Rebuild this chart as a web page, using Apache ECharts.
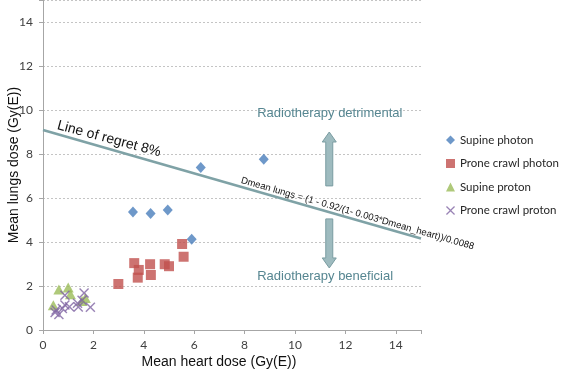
<!DOCTYPE html>
<html><head><meta charset="utf-8">
<script src="https://cdn.jsdelivr.net/npm/echarts@6/dist/echarts.min.js"></script>
<style>html,body{margin:0;padding:0;background:#fff}#c{width:564px;height:373px}</style>
</head><body><div id="c"></div>
<script>
// ---- data ----
const seriesNames = ['Supine photon', 'Prone crawl photon', 'Supine proton', 'Prone crawl proton'];
const supinePhoton = [[3.57,5.36],[4.27,5.29],[4.95,5.45],[5.9,4.12],[6.26,7.39],[8.76,7.76]];
const proneCrawlPhoton = [[2.99,2.09],[3.62,3.04],[3.8,2.73],[3.76,2.38],[4.25,2.99],[4.28,2.5],[4.83,2.99],[5.0,2.9],[5.52,3.91],[5.58,3.33]];
const supineProton = [[0.41,1.12],[0.63,1.84],[1.0,1.93],[1.09,1.63],[1.55,1.32],[1.68,1.45]];
const proneCrawlProton = [[0.48,0.8],[0.63,0.7],[0.52,0.91],[0.77,0.98],[0.87,1.14],[0.87,1.58],[1.05,1.06],[1.37,1.22],[1.4,1.05],[1.63,1.68],[1.88,1.03],[1.55,1.35]];
const regretLine = [[0, 9.09], [15, 4.16]];
const xAxisRange = [0, 15];
const yAxisRange = [0, 15];
const tickStep = 2;

const chart = echarts.init(document.getElementById('c'), null, {renderer: 'canvas'});
const xSymbol = 'path://M0,1 L1,0 L5,4 L9,0 L10,1 L6,5 L10,9 L9,10 L5,6 L1,10 L0,9 L4,5 Z';
const tickFont = 'Lato';
const axisColor = '#a6a6a6';

chart.setOption({
  animation: false,
  backgroundColor: '#fff',
  grid: {left: 43, right: 143, top: 0, bottom: 43, containLabel: false, outerBoundsMode: 'none'},
  xAxis: {
    type: 'value', min: xAxisRange[0], max: xAxisRange[1], interval: tickStep,
    name: 'Mean heart dose (Gy(E))', nameLocation: 'middle', nameGap: 25, nameMoveOverlap: false,
    nameTextStyle: {fontFamily: 'Liberation Sans', fontSize: 14, color: '#111', padding: [0, 26, 0, 0]},
    axisLine: {show: true, lineStyle: {color: axisColor, width: 1}},
    axisTick: {show: true, length: 4, lineStyle: {color: axisColor}},
    axisLabel: {fontFamily: tickFont, fontSize: 12, color: '#404040', margin: 9,
      formatter: v => (v > 14 ? '' : v)},
    splitLine: {show: false}
  },
  yAxis: {
    type: 'value', min: yAxisRange[0], max: yAxisRange[1], interval: tickStep,
    name: 'Mean lungs dose (Gy(E))', nameLocation: 'middle', nameGap: 22, nameMoveOverlap: false,
    nameTextStyle: {fontFamily: 'Liberation Sans', fontSize: 14, color: '#111'},
    axisLine: {show: true, lineStyle: {color: axisColor, width: 1}},
    axisTick: {show: true, length: 4, lineStyle: {color: axisColor}},
    axisLabel: {fontFamily: tickFont, fontSize: 12, color: '#404040', margin: 10,
      formatter: v => (v > 14 ? '' : v)},
    splitLine: {show: true, lineStyle: {color: '#c4c4c4', type: [2, 2], width: 1}}
  },
  legend: {
    orient: 'vertical', left: 446, top: 133, itemWidth: 9, itemHeight: 9, itemGap: 9.5,
    data: seriesNames, padding: 0,
    textStyle: {fontFamily: tickFont, fontSize: 11.5, color: '#262626', lineHeight: 14}
  },
  series: [
    {name: 'regret', type: 'line', data: regretLine, showSymbol: false, symbol: 'none',
     lineStyle: {color: '#7fa2a6', width: 2.5}, z: 1, silent: true},
    {name: seriesNames[0], type: 'scatter', data: supinePhoton, symbol: 'diamond', symbolSize: [10, 11],
     itemStyle: {color: '#4a7ebb'}, z: 3},
    {name: seriesNames[1], type: 'scatter', data: proneCrawlPhoton, symbol: 'rect', symbolSize: 10,
     itemStyle: {color: '#c0504d'}, z: 3},
    {name: seriesNames[2], type: 'scatter', data: supineProton, symbol: 'triangle', symbolSize: [11, 10],
     itemStyle: {color: '#9bbb59'}, z: 3},
    {name: seriesNames[3], type: 'scatter', data: proneCrawlProton, symbol: xSymbol, symbolSize: 10,
     itemStyle: {color: '#8064a2'}, z: 4}
  ]
});

function px(p) { return chart.convertToPixel({gridIndex: 0}, p); }
function arrow(x, yFrom, yTo) {
  const a = px([x, yFrom]), b = px([x, yTo]);
  const dir = b[1] < a[1] ? -1 : 1;
  const sw = 3.5, hw = 7, hl = 10;
  const cx = a[0];
  const neck = b[1] - dir * hl;
  return [[cx - sw, a[1]], [cx - sw, neck], [cx - hw, neck], [cx, b[1]], [cx + hw, neck], [cx + sw, neck], [cx + sw, a[1]]];
}
const annColor = '#568691';
const ang = -16 * Math.PI / 180;
const regretLabelPos = px([2.62, 8.68]);
const formulaPos = px([12.48, 5.29]);
const detPos = px([8.5, 9.86]);
const benPos = px([8.5, 2.42]);
chart.setOption({
  graphic: [
    {type: 'polygon', shape: {points: arrow(11.36, 6.55, 9.0)}, style: {fill: '#9ebbbf', stroke: '#7a9ca1', lineWidth: 1}, z: 5},
    {type: 'polygon', shape: {points: arrow(11.36, 5.05, 2.82)}, style: {fill: '#9ebbbf', stroke: '#7a9ca1', lineWidth: 1}, z: 5},
    {type: 'text', x: regretLabelPos[0], y: regretLabelPos[1], rotation: -15 * Math.PI / 180,
     style: {text: 'Line of regret 8%', fill: '#111', font: '14px "Liberation Sans"', align: 'center', verticalAlign: 'middle'}, z: 6},
    {type: 'text', x: formulaPos[0], y: formulaPos[1], rotation: ang,
     style: {text: 'Dmean lungs = (1 - 0.92/(1- 0.003*Dmean_heart))/0.0088', fill: '#111', font: '9.5px "Liberation Sans"', align: 'center', verticalAlign: 'middle'}, z: 6},
    {type: 'text', x: detPos[0], y: detPos[1],
     style: {text: 'Radiotherapy detrimental', fill: annColor, font: '13px "Liberation Sans"', align: 'left', verticalAlign: 'middle'}, z: 6},
    {type: 'text', x: benPos[0], y: benPos[1],
     style: {text: 'Radiotherapy beneficial', fill: annColor, font: '13px "Liberation Sans"', align: 'left', verticalAlign: 'middle'}, z: 6}
  ]
});
</script>
</body></html>
